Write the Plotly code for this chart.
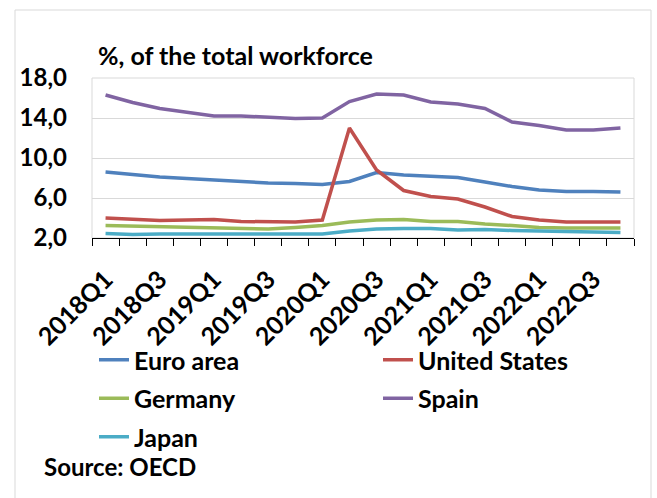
import plotly.graph_objects as go

# Unemployment rate, % of total workforce, quarterly
quarters = [f"{y}Q{q}" for y in range(2018, 2023) for q in range(1, 5)]

euro_area = [8.6, 8.35, 8.1, 7.95, 7.8, 7.6, 7.5, 7.45, 7.35, 7.65,
             8.55, 8.3, 8.2, 8.05, 7.6, 7.15, 6.8, 6.65, 6.65, 6.6]
united_states = [4.0, 3.9, 3.75, 3.8, 3.85, 3.65, 3.65, 3.6, 3.8, 13.0,
                 8.8, 6.75, 6.15, 5.9, 5.1, 4.15, 3.8, 3.6, 3.6, 3.6]
germany = [3.25, 3.2, 3.15, 3.1, 3.0, 2.95, 2.9, 3.05, 3.25, 3.6,
           3.8, 3.85, 3.65, 3.65, 3.4, 3.25, 3.05, 3.0, 3.0, 3.0]
spain = [16.3, 15.55, 14.95, 14.6, 14.2, 14.2, 14.1, 13.95, 14.0, 15.65,
         16.4, 16.3, 15.6, 15.4, 14.95, 13.6, 13.25, 12.8, 12.8, 13.0]
japan = [2.45, 2.35, 2.4, 2.4, 2.4, 2.35, 2.35, 2.35, 2.4, 2.7,
         2.9, 2.95, 2.95, 2.8, 2.85, 2.75, 2.7, 2.65, 2.6, 2.55]

y_ticks = [2, 6, 10, 14, 18]
x_labels = [q if i % 2 == 0 else "" for i, q in enumerate(quarters)]

series = [
    ("Euro area", euro_area, "#4F81BD", "legend"),
    ("United States", united_states, "#C0504D", "legend2"),
    ("Germany", germany, "#9BBB59", "legend"),
    ("Spain", spain, "#8064A2", "legend2"),
    ("Japan", japan, "#4BACC6", "legend"),
]

FONT = "Lato"
W, H = 657, 498
ML, MR, MT, MB = 92, 23, 78, 260
PW, PH = W - ML - MR, H - MT - MB


def px_x(px):
    return (px - ML) / PW


def px_y(py):
    return (H - MB - py) / PH


fig = go.Figure()
for name, vals, color, leg in series:
    fig.add_trace(go.Scatter(
        x=quarters, y=vals, name=name, mode="lines",
        line=dict(color=color, width=3.5),
        legend=leg, legendgroup=name,
    ))

legend_common = dict(
    orientation="v", traceorder="grouped", tracegroupgap=3,
    font=dict(family=FONT, size=25, color="black", weight="bold"),
    bgcolor="rgba(0,0,0,0)", xanchor="left", yanchor="top",
    itemwidth=30,
)

fig.update_layout(
    width=W, height=H,
    margin=dict(l=ML, r=MR, t=MT, b=MB),
    paper_bgcolor="white", plot_bgcolor="white",
    separators=",.",
    font=dict(family=FONT, size=24, color="black", weight="bold"),
    legend=dict(x=px_x(94), y=px_y(337), **legend_common),
    legend2=dict(x=px_x(378), y=px_y(337), **legend_common),
    xaxis=dict(
        type="category", tickmode="array", tickvals=quarters, ticktext=x_labels,
        tickson="boundaries", ticks="outside", ticklen=7, tickcolor="black",
        showline=True, linecolor="black", linewidth=1, showgrid=False,
        tickangle=-45, ticklabelstandoff=16,
        tickfont=dict(family=FONT, size=25, weight="bold"),
        range=[-0.5, len(quarters) - 0.5],
    ),
    yaxis=dict(
        range=[2, 18], tickmode="array", tickvals=y_ticks, tickformat=".1f",
        showgrid=True, gridcolor="#D9D9D9", gridwidth=1,
        showline=False, ticks="", zeroline=False,
        ticklabelstandoff=24,
        tickfont=dict(family=FONT, size=24, weight="bold"),
    ),
    shapes=[
        # plot area frame
        dict(type="rect", xref="paper", yref="paper", x0=0, x1=1, y0=0, y1=1,
             line=dict(color="#D9D9D9", width=1), layer="below"),
        # chart frame
        dict(type="rect", xref="paper", yref="paper",
             x0=px_x(15), x1=px_x(651), y0=px_y(505), y1=px_y(10),
             line=dict(color="#D9D9D9", width=1), layer="below"),
    ],
    annotations=[
        dict(text="%, of the total workforce", xref="paper", yref="paper",
             x=px_x(96), y=px_y(55), xanchor="left", yanchor="middle",
             showarrow=False, font=dict(family=FONT, size=25, weight="bold")),
        dict(text="Source: OECD", xref="paper", yref="paper",
             x=px_x(42), y=px_y(466), xanchor="left", yanchor="middle",
             showarrow=False, font=dict(family=FONT, size=24, weight="bold")),
    ],
)

fig.write_html("out.html")
